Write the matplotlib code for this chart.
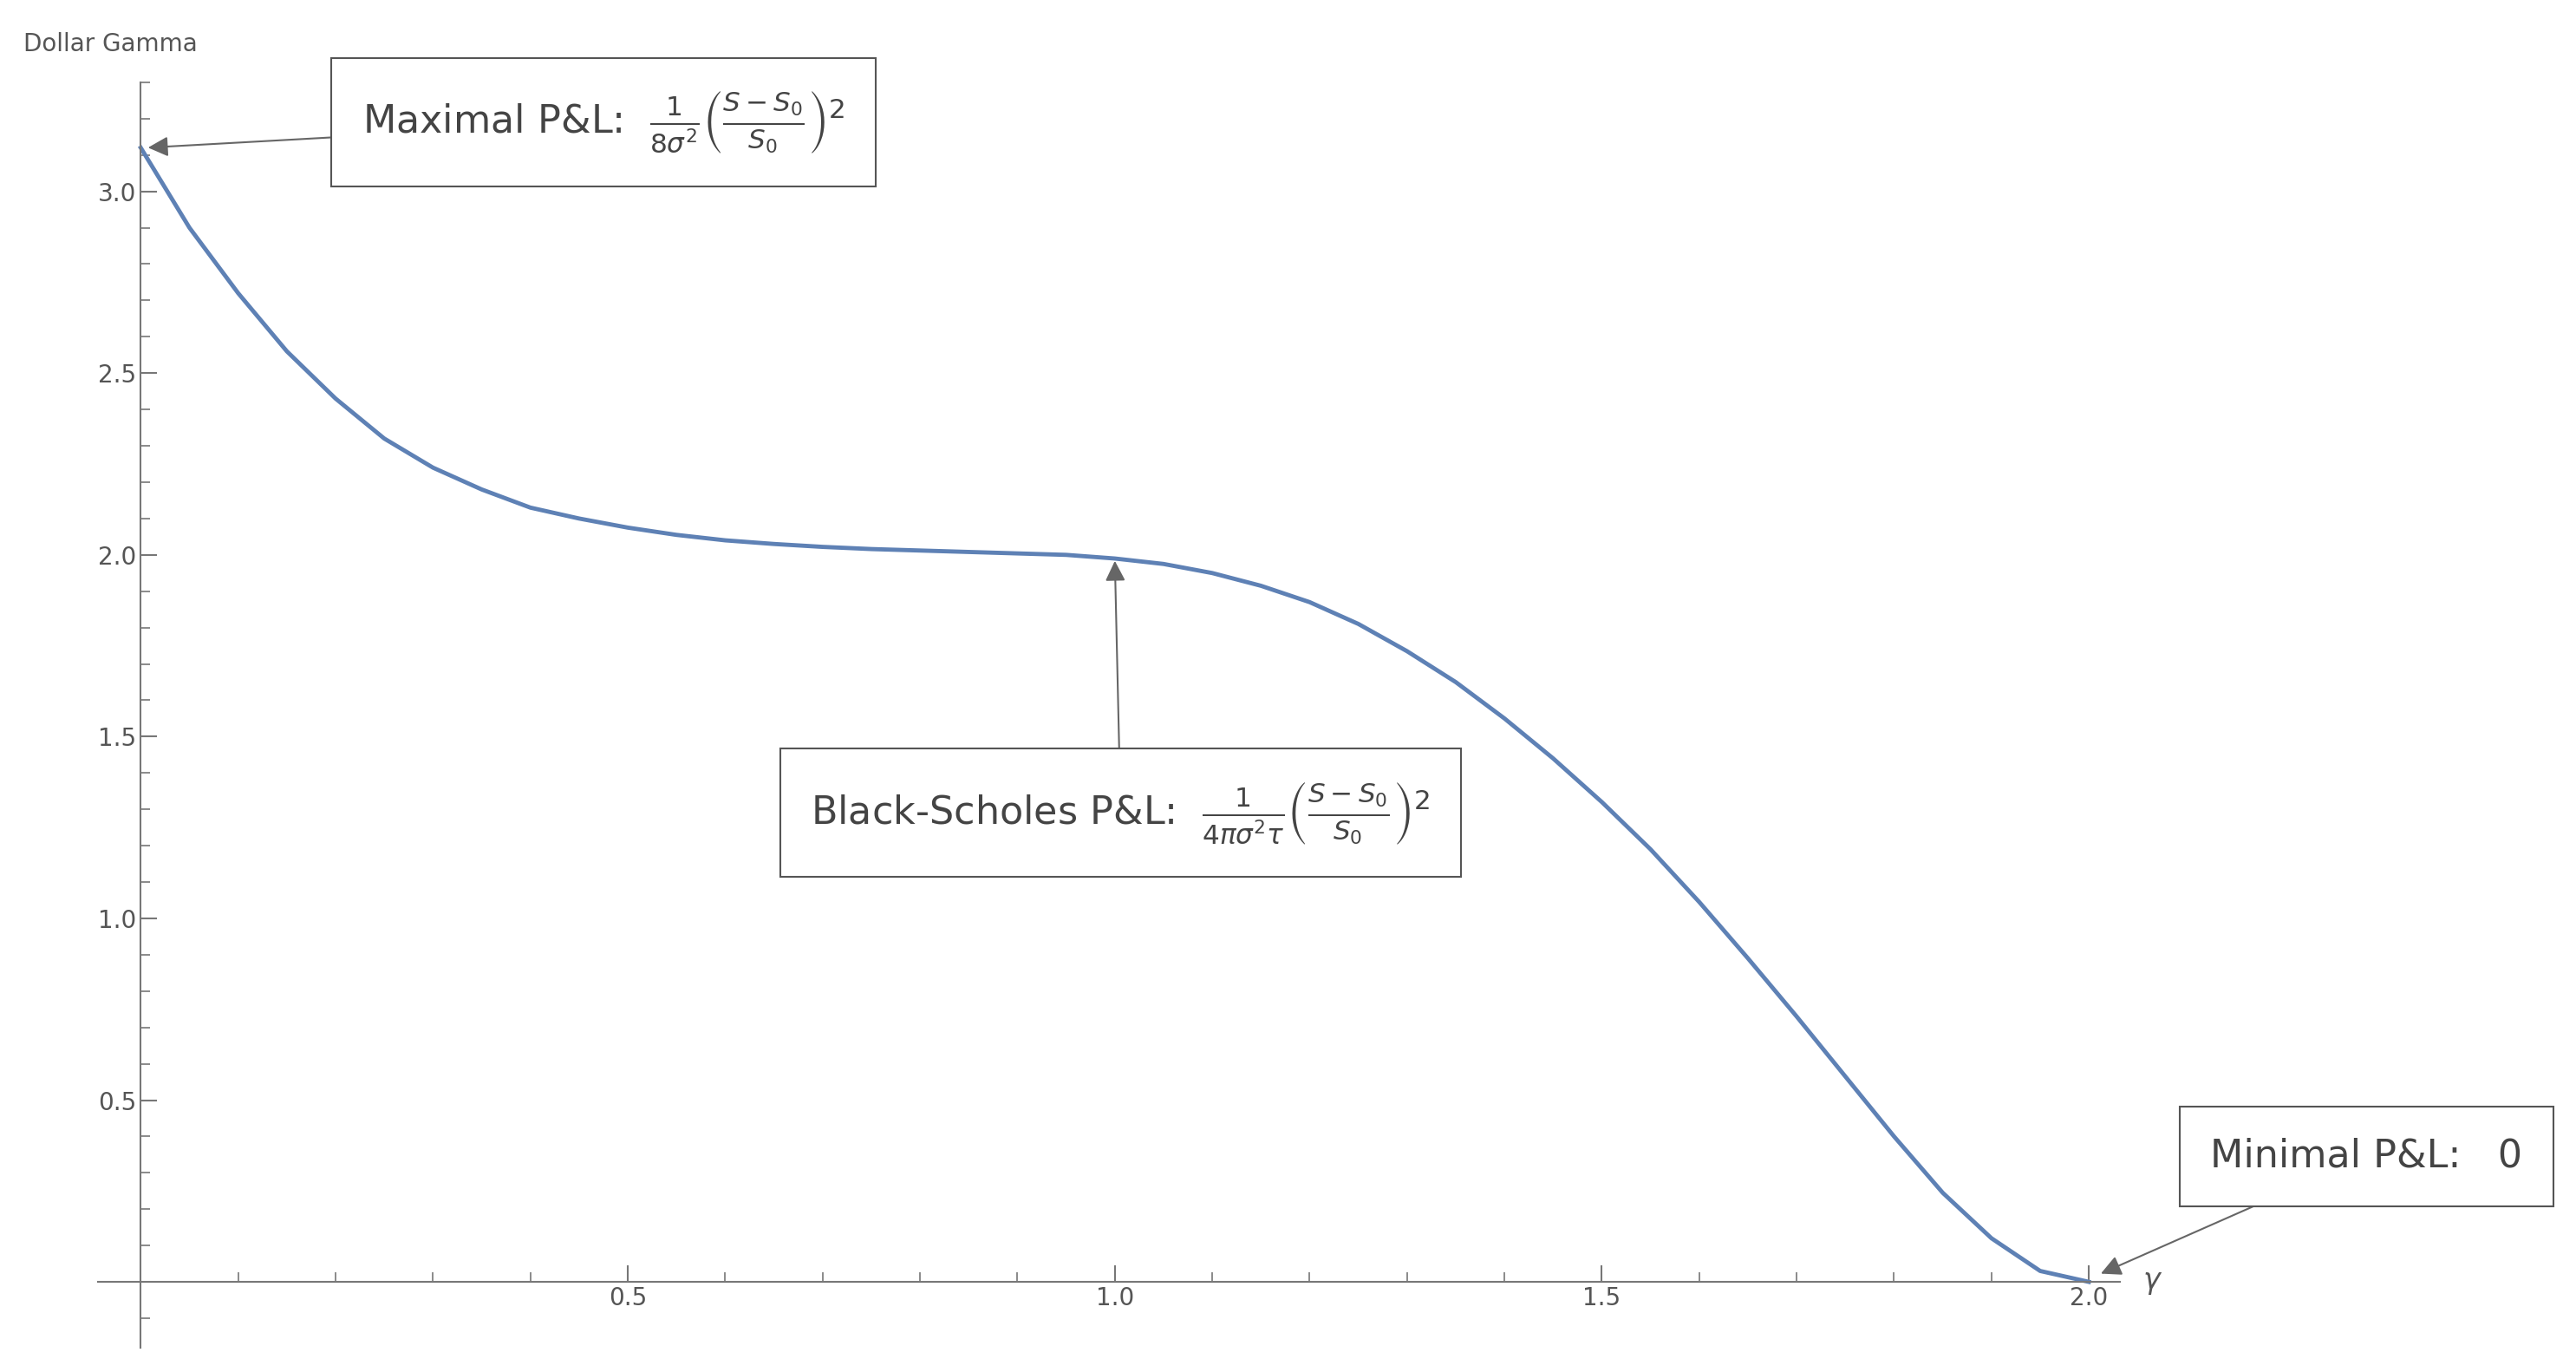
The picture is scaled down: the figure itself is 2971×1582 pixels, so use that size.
import matplotlib.pyplot as plt
from matplotlib.ticker import MultipleLocator

# values
gamma = [0.0, 0.05, 0.1, 0.15, 0.2, 0.25, 0.3, 0.35, 0.4, 0.45, 0.5, 0.55, 0.6, 0.65, 0.7,
         0.75, 0.8, 0.85, 0.9, 0.95, 1.0, 1.05, 1.1, 1.15, 1.2, 1.25, 1.3, 1.35, 1.4,
         1.45, 1.5, 1.55, 1.6, 1.65, 1.7, 1.75, 1.8, 1.85, 1.9, 1.95, 2.0]
dollar_gamma = [3.12, 2.90, 2.72, 2.56, 2.43, 2.32, 2.24, 2.18, 2.13, 2.10, 2.075, 2.055, 2.04,
                2.03, 2.022, 2.016, 2.012, 2.008, 2.004, 2.0, 1.99, 1.975, 1.95, 1.915, 1.87,
                1.81, 1.735, 1.65, 1.55, 1.44, 1.32, 1.19, 1.045, 0.89, 0.73, 0.565, 0.40,
                0.245, 0.12, 0.03, 0.0]

fig = plt.figure(figsize=(29.71, 15.82), dpi=100)
ax = fig.add_axes([0.038, 0.018, 0.785, 0.922])
ax.plot(gamma, dollar_gamma, color='#5e81b5', lw=3.5, solid_joinstyle='round')

ax.set_xlim(-0.044, 2.032)
ax.set_ylim(-0.18, 3.30)
for s in ['top', 'right']:
    ax.spines[s].set_visible(False)
ax.spines['left'].set_position(('data', 0))
ax.spines['bottom'].set_position(('data', 0))
for s in ['left', 'bottom']:
    ax.spines[s].set_color('#777777')
    ax.spines[s].set_linewidth(1.5)

ax.xaxis.set_minor_locator(MultipleLocator(0.1))
ax.yaxis.set_minor_locator(MultipleLocator(0.1))
ax.set_xticks([0.5, 1.0, 1.5, 2.0])
ax.set_yticks([0.5, 1.0, 1.5, 2.0, 2.5, 3.0])
ax.tick_params(which='both', direction='in', color='#777777', labelcolor='#555555', labelsize=20)
ax.tick_params(which='major', length=14, width=1.5)
ax.tick_params(which='minor', length=8, width=1.2)

fig.text(0.009, 0.963, 'Dollar Gamma', fontsize=20, color='#555555')
ax.text(2.055, 0.0, r'$\gamma$', fontsize=24, color='#555555', va='center',
        transform=ax.transData, clip_on=False)

box = dict(boxstyle='square,pad=0.8', fc='white', ec='#555555', lw=1.5)
arrow = dict(arrowstyle='-|>', color='#666666', lw=1.5, mutation_scale=35, shrinkA=0, shrinkB=2)
txt = dict(fontsize=32, color='#444444', ha='center', va='center', bbox=box,
           arrowprops=arrow, annotation_clip=False)

ax.annotate(r'Maximal P&L:  $\frac{1}{8\sigma^2}\left(\frac{S-S_0}{S_0}\right)^2$',
            xy=(0.005, 3.12), xytext=(0.475, 3.19), **txt)
ax.annotate(r'Black-Scholes P&L:  $\frac{1}{4\pi\sigma^2\tau}\left(\frac{S-S_0}{S_0}\right)^2$',
            xy=(1.0, 1.99), xytext=(1.006, 1.29), **txt)
ax.annotate('Minimal P&L:   0', xy=(2.01, 0.02), xytext=(2.285, 0.345), **txt)

fig.savefig('out.png')
